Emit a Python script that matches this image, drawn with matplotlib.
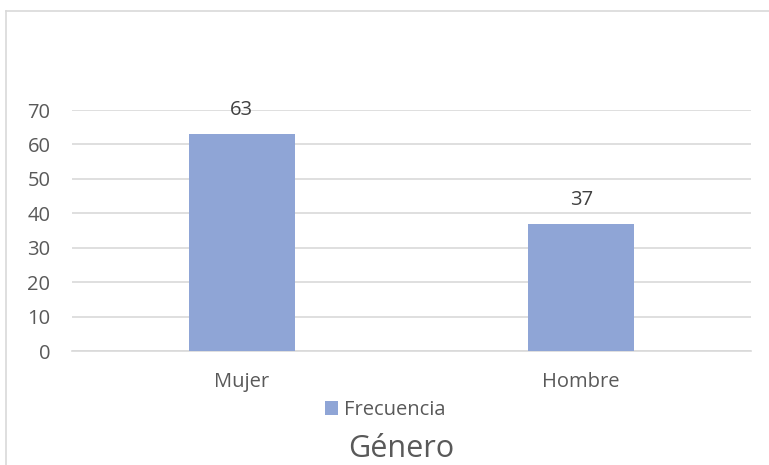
import matplotlib.pyplot as plt
from matplotlib.lines import Line2D

categorias = ["Mujer", "Hombre"]
frecuencia = [63, 37]
ticks_y = [0, 10, 20, 30, 40, 50, 60, 70]

W, H = 769, 465
plt.rcParams['font.family'] = ['Open Sans', 'DejaVu Sans']
gris = '#595959'

fig = plt.figure(figsize=(W / 100, H / 100), dpi=100)
ax = fig.add_axes([72 / W, (H - 351) / H, (751 - 72) / W, (351 - 110) / H])

x = range(len(categorias))
barras = ax.bar(x, frecuencia, width=0.312, color='#8FA5D6', label='Frecuencia', zorder=3)
for b, v in zip(barras, frecuencia):
    ax.annotate(str(v), (b.get_x() + b.get_width() / 2, v), xytext=(0, 17),
                textcoords='offset points', ha='center', va='center',
                fontsize=14.5, color='#404040')

ax.set_xlim(-0.5, 1.5)
ax.set_ylim(0, 70)
ax.set_yticks(ticks_y)
ax.set_xticks(list(x))
ax.set_xticklabels(categorias)
ax.yaxis.grid(True, color='#D9D9D9', linewidth=1.2, zorder=0)
for s in ['top', 'right', 'left']:
    ax.spines[s].set_visible(False)
ax.spines['bottom'].set_color('#D9D9D9')
ax.spines['bottom'].set_linewidth(1.2)
ax.tick_params(axis='both', length=0, labelsize=14.5, colors=gris)
ax.tick_params(axis='y', pad=15.5)
ax.tick_params(axis='x', pad=15)
for t in ax.get_yticklabels():
    t.set_horizontalalignment('right')

fig.legend(handles=[barras], labels=['Frecuencia'], loc='center',
           bbox_to_anchor=(385 / W, 1 - 410 / H), frameon=False,
           fontsize=14.5, labelcolor=gris, handlelength=0.65, handleheight=0.65,
           handletextpad=0.3)

fig.text(401 / W, 1 - 449 / H, 'Género', ha='center', va='center',
         fontsize=22, color=gris)

# borde del gráfico
fig.add_artist(Line2D([5.5 / W, 5.5 / W], [0, 1 - 11.5 / H], transform=fig.transFigure,
                      color='#D9D9D9', linewidth=1.2))
fig.add_artist(Line2D([5.5 / W, 1], [1 - 11.5 / H, 1 - 11.5 / H], transform=fig.transFigure,
                      color='#D9D9D9', linewidth=1.2))

fig.savefig('out.png', dpi=100)
